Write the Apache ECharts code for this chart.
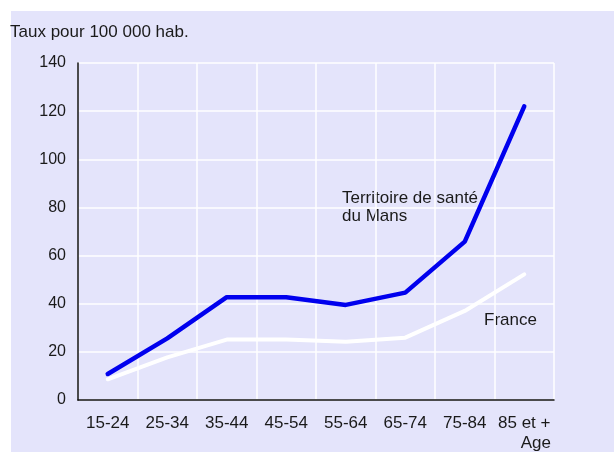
<!DOCTYPE html>
<html>
<head>
<meta charset="utf-8">
<script src="https://cdn.jsdelivr.net/npm/echarts@6/dist/echarts.min.js"></script>
<style>
  html, body { margin: 0; padding: 0; background: #fff; }
  #chart { width: 614px; height: 452px; }
</style>
</head>
<body>
<div id="chart"></div>
<script>
// tranches d'age
var ages = ['15-24', '25-34', '35-44', '45-54', '55-64', '65-74', '75-84', '85 et +'];
// taux pour 100 000 hab.
var territoire = [10.8, 25.6, 42.7, 42.7, 39.5, 44.6, 65.8, 122];
var france = [8.6, 17.7, 25.1, 25.1, 24.2, 25.9, 37, 52.2];

var txtColor = '#1a1a1a';
var fontFam = '"Liberation Sans", Arial, sans-serif';

var myChart = echarts.init(document.getElementById('chart'));

function label(txt, x, y, extra) {
  var st = { text: txt, fill: txtColor, fontSize: 17, fontFamily: fontFam, lineHeight: 17.5 };
  for (var k in extra) st[k] = extra[k];
  return { type: 'text', x: x, y: y, style: st };
}

var option = {
  backgroundColor: '#ffffff',
  animation: false,
  textStyle: { fontFamily: fontFam },
  graphic: [
    {
      type: 'rect',
      z: -10,
      shape: { x: 11, y: 11, width: 603, height: 441 },
      style: { fill: '#e4e4fb' }
    },
    label('Taux pour 100 000 hab.', 10, 24),
    label('Territoire de santé\ndu Mans', 342, 190),
    label('France', 484, 312),
    label('Age', 551, 435, { align: 'right' })
  ],
  grid: {
    left: 78,
    right: 60,
    top: 63,
    bottom: 52
  },
  xAxis: {
    type: 'category',
    data: ages,
    boundaryGap: true,
    axisLine: { show: true, lineStyle: { color: '#111', width: 1.5 } },
    axisTick: { show: false },
    axisLabel: { color: txtColor, fontSize: 17, margin: 15, interval: 0 },
    splitLine: { show: true, lineStyle: { color: '#ffffff', width: 1.5 } }
  },
  yAxis: {
    type: 'value',
    min: 0,
    max: 140,
    interval: 20,
    axisLine: { show: true, lineStyle: { color: '#111', width: 1.5 } },
    axisTick: { show: false },
    axisLabel: { color: txtColor, fontSize: 16, margin: 12 },
    splitLine: { show: true, lineStyle: { color: '#ffffff', width: 1.5 } }
  },
  series: [
    {
      name: 'France',
      type: 'line',
      data: france,
      symbol: 'none',
      lineStyle: { color: '#ffffff', width: 4, cap: 'round' },
      z: 3
    },
    {
      name: 'Territoire de santé du Mans',
      type: 'line',
      data: territoire,
      symbol: 'none',
      lineStyle: { color: '#0000ee', width: 4.5, cap: 'round' },
      z: 4
    }
  ]
};

myChart.setOption(option);
</script>
</body>
</html>
